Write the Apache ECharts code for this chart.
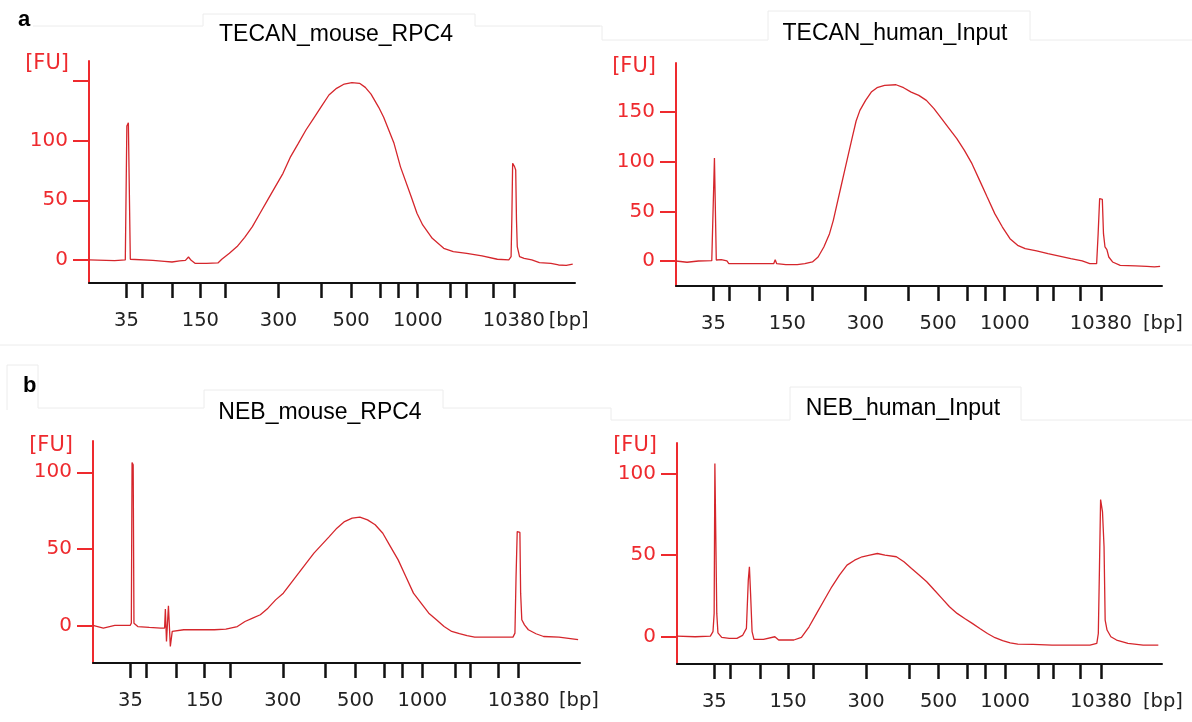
<!DOCTYPE html>
<html>
<head>
    <meta charset="utf-8">
    <title>Bioanalyzer traces</title>
    <style>
        *{
            margin: 0px;
            padding: 0px;
            box-sizing: border-box;
        }
        html, body, #chart{
            width: 100%;
            height: 100%;
            overflow: hidden;
            background: #fff;
        }
    </style>
</head>
<body>
    <div id="chart"></div>
    <script src="https://cdn.jsdelivr.net/npm/echarts@6.0.0/dist/echarts.min.js"></script>
    <script>
        // HS ladder: fragment sizes and where they sit on the run axis (0-100)
        var ladderBp  = [35, 50, 100, 150, 200, 300, 400, 500, 600, 700, 1000, 2000, 3000, 7000, 10380];
        var ladderPos = [7.70, 10.94, 17.15, 22.92, 28.11, 38.98, 47.79, 53.93, 59.84, 63.55, 67.64, 74.42, 77.56, 83.23, 87.41];
        var labelBp   = [35, 150, 300, 500, 1000, 10380];

        var titles = ['TECAN_mouse_RPC4', 'TECAN_human_Input', 'NEB_mouse_RPC4', 'NEB_human_Input'];

        var tecanMouseTime = [0, 5.27, 7.47, 7.71, 7.79, 8.10, 8.34, 8.50, 8.81, 13.14, 15.51, 17.08, 18.66, 19.84, 20.47, 21.02, 21.81, 24.17, 26.53, 27.32, 28.89, 30.47, 32.04, 33.62, 35.19, 36.77, 38.34, 39.92, 41.49, 43.07, 44.64, 46.22, 47.79, 49.37, 50.94, 52.52, 54.09, 55.67, 56.85, 58.03, 59.61, 60.63, 62.76, 64.09, 66.30, 67.48, 68.66, 70.63, 72.99, 74.96, 77.72, 80.87, 84.02, 86.38, 86.85, 87.01, 87.17, 87.33, 87.56, 87.80, 87.96, 88.12, 88.59, 89.53, 91.11, 92.68, 95.04, 96.62, 98.20, 99.53];
        var tecanMouseFU   = [0, -0.6, 0, 0, 112.2, 115.0, 113.9, 0.6, -0.3, -0.3, -1.1, -1.7, -0.8, -0.3, 2.5, -0.3, -2.8, -2.8, -2.5, 0.6, 5.6, 11.2, 19.0, 27.9, 39.1, 50.3, 61.4, 72.6, 86.6, 97.7, 108.9, 118.7, 128.4, 138.2, 143.8, 147.4, 148.5, 148.0, 144.6, 139.0, 127.9, 119.5, 97.7, 78.0, 53.0, 39.1, 29.3, 18.1, 9.8, 7.0, 5.6, 3.4, 0.6, 0, 2.8, 36.3, 81.0, 81.5, 78.2, 75.4, 33.5, 11.2, 2.8, 1.4, 0, -2.2, -2.8, -4.2, -4.5, -3.4];

        var tecanHumanTime = [0, 2.27, 4.61, 7.36, 7.75, 7.91, 8.14, 8.29, 9.31, 10.48, 10.87, 16.34, 20.10, 20.41, 20.72, 22.60, 24.95, 26.51, 28.07, 29.24, 30.42, 31.59, 32.37, 33.15, 33.93, 34.71, 35.50, 36.28, 37.06, 37.84, 39.01, 40.18, 41.36, 42.92, 45.27, 46.83, 48.39, 49.96, 51.52, 53.08, 54.65, 56.21, 57.78, 59.34, 60.90, 62.47, 64.03, 65.59, 67.16, 68.72, 70.29, 71.85, 74.20, 76.54, 78.89, 81.23, 83.58, 85.14, 86.55, 86.86, 87.17, 87.49, 87.72, 87.96, 88.27, 88.66, 89.05, 89.83, 91.40, 94.53, 96.87, 98.44, 99.61];
        var tecanHumanFU   = [0, -1.3, 0, 0.3, 0, 103.7, 103.0, 1.0, 1.3, 0, -2.7, -2.7, -2.7, 1.3, -2.7, -3.7, -3.7, -2.7, -1.0, 4.0, 14.1, 27.5, 40.9, 57.7, 74.5, 91.3, 108.1, 124.8, 141.0, 151.7, 161.8, 170.1, 174.5, 176.9, 177.5, 174.5, 170.1, 166.8, 161.8, 153.4, 143.3, 133.2, 123.2, 111.4, 98.0, 81.2, 64.4, 47.7, 34.2, 22.5, 15.8, 12.4, 10.1, 7.4, 5.0, 2.3, 0, -2.7, -2.7, 27.5, 62.8, 63.8, 62.1, 27.5, 14.1, 11.4, 4.0, -1.0, -4.4, -5.0, -5.4, -6.0, -5.4];

        var nebMouseTime = [0, 2.12, 4.48, 7.63, 7.87, 8.02, 8.25, 8.41, 9.20, 11.56, 13.92, 14.70, 14.86, 15.09, 15.49, 15.88, 16.27, 18.63, 21.78, 24.92, 27.28, 29.64, 31.21, 32.78, 34.36, 35.93, 37.50, 39.08, 40.65, 42.22, 43.79, 45.37, 46.94, 48.51, 50.08, 51.65, 53.22, 54.80, 56.37, 57.94, 59.51, 61.08, 62.66, 64.23, 65.80, 67.37, 68.95, 70.52, 72.09, 73.66, 75.24, 76.81, 78.38, 86.24, 86.64, 86.87, 87.11, 87.42, 87.66, 87.81, 88.05, 88.60, 89.39, 90.96, 92.53, 95.68, 98.82, 99.61];
        var nebMouseFU   = [0, -1.7, 0, 0, 1.5, 106.3, 104.8, 1.5, -0.7, -1.3, -1.7, -1.7, 10.7, -10.4, 12.8, -13.7, -3.9, -2.8, -2.8, -2.8, -2.4, -0.7, 2.6, 4.8, 7.0, 11.3, 16.7, 21.1, 27.6, 34.1, 40.7, 47.2, 52.6, 58.0, 63.5, 67.8, 70.0, 70.7, 68.9, 65.7, 60.2, 51.5, 42.8, 32.0, 21.1, 14.6, 8.0, 3.7, -0.7, -3.9, -5.4, -6.7, -7.6, -7.6, -5.0, 32.0, 61.3, 60.2, 60.7, 21.1, 3.7, 0.4, -2.8, -5.4, -7.2, -7.6, -8.9, -9.3];

        var nebHumanTime = [0, 3.75, 6.88, 7.42, 7.66, 7.81, 8.05, 8.20, 8.44, 9.22, 10.79, 12.35, 13.52, 14.31, 14.70, 14.93, 15.17, 15.48, 15.87, 17.83, 20.18, 20.96, 24.09, 25.66, 27.23, 28.79, 30.36, 31.92, 33.49, 35.05, 36.62, 38.18, 39.75, 41.31, 42.88, 45.23, 46.79, 48.36, 49.92, 51.49, 53.05, 54.62, 56.18, 57.75, 59.31, 60.88, 62.44, 64.01, 65.57, 67.14, 68.70, 70.27, 73.40, 77.32, 85.15, 86.56, 86.87, 87.11, 87.34, 87.73, 88.05, 88.28, 88.67, 89.46, 90.63, 92.98, 96.11, 99.24];
        var nebHumanFU   = [0.4, 0, 0.4, 3.1, 14.3, 106.1, 105.1, 14.3, 2.4, -0.4, -1.0, -1.0, 0.8, 5.1, 34.7, 42.9, 26.5, 3.1, -1.6, -1.6, 0, -2.0, -2.0, -0.4, 6.1, 14.3, 22.5, 30.6, 37.8, 43.9, 46.9, 49.0, 50.0, 51.0, 50.0, 49.0, 45.9, 41.8, 37.8, 33.7, 28.6, 23.5, 18.4, 14.3, 11.2, 8.2, 5.1, 2.0, -0.6, -2.4, -3.7, -4.5, -4.7, -5.1, -5.1, -4.1, 2.0, 42.9, 84.1, 76.5, 55.1, 10.2, 4.1, 0, -2.0, -4.1, -5.1, -5.1];

        var fuTicks  = [[0, 50, 100, 150], [0, 50, 100, 150], [0, 50, 100], [0, 50, 100]];
        var fuLabels = [[0, 50, 100], [0, 50, 100, 150], [0, 50, 100], [0, 50, 100]];

        var traces = [
            [tecanMouseTime, tecanMouseFU],
            [tecanHumanTime, tecanHumanFU],
            [nebMouseTime, nebMouseFU],
            [nebHumanTime, nebHumanFU]
        ];

        // where each panel sits in the figure
        var panels = [
            {left: 89,  top: 61,  width: 486, height: 222, yMin: -19.3, yMax: 166.7, tx: 336, ty: 35,  bpGap: -27, fuGap: -3},
            {left: 676, top: 63,  width: 486, height: 223, yMin: -25.2, yMax: 199.4, tx: 895, ty: 34,  bpGap: -19, fuGap: -4},
            {left: 93,  top: 441, width: 487, height: 222, yMin: -24.5, yMax: 120.4, tx: 320, ty: 413, bpGap: -21, fuGap: -5},
            {left: 677, top: 443, width: 485, height: 221, yMin: -16.7, yMax: 118.7, tx: 903, ty: 409, bpGap: -19, fuGap: -3}
        ];

        var RED = '#ee2a2e';
        var labelPos = labelBp.map(function (bp) { return ladderPos[ladderBp.indexOf(bp)]; });

        function bpText(v) {
            var best = 0;
            for (var k = 1; k < ladderPos.length; k++) {
                if (Math.abs(ladderPos[k] - v) < Math.abs(ladderPos[best] - v)) best = k;
            }
            return String(ladderBp[best]);
        }

        var grid = [], xAxis = [], yAxis = [], series = [], graphic = [];

        panels.forEach(function (p, i) {
            grid.push({left: p.left, top: p.top, width: p.width, height: p.height, outerBoundsMode: 'none'});

            xAxis.push({
                gridIndex: i, type: 'value', min: 0, max: 100,
                axisLine: {onZero: false, lineStyle: {color: '#111', width: 2}},
                axisTick: {customValues: ladderPos, length: 15, lineStyle: {color: '#111', width: 2.5}},
                axisLabel: {
                    customValues: labelPos, margin: 28, formatter: bpText,
                    color: '#222', fontFamily: 'DejaVu Sans', fontSize: 19.5
                },
                splitLine: {show: false},
                name: '[bp]', nameLocation: 'end', nameGap: p.bpGap,
                nameTextStyle: {
                    align: 'left', verticalAlign: 'top', padding: [28, 0, 0, 0],
                    color: '#222', fontFamily: 'DejaVu Sans', fontSize: 19.5
                }
            });

            yAxis.push({
                gridIndex: i, type: 'value', min: p.yMin, max: p.yMax,
                axisLine: {show: true, lineStyle: {color: RED, width: 2}},
                axisTick: {show: true, customValues: fuTicks[i], length: 16, lineStyle: {color: RED, width: 2}},
                axisLabel: {
                    customValues: fuLabels[i], margin: 21,
                    color: RED, fontFamily: 'DejaVu Sans', fontSize: 20
                },
                splitLine: {show: false},
                name: '[FU]', nameLocation: 'end', nameGap: p.fuGap,
                nameTextStyle: {
                    align: 'right', verticalAlign: 'middle', padding: [0, 20, 0, 0],
                    color: RED, fontFamily: 'DejaVu Sans', fontSize: 21
                }
            });

            var t = traces[i][0], fu = traces[i][1];
            series.push({
                type: 'line',
                xAxisIndex: i,
                yAxisIndex: i,
                data: t.map(function (x, k) { return [x, fu[k]]; }),
                showSymbol: false,
                symbol: 'none',
                lineStyle: {color: '#d5262c', width: 1.3},
                animation: false
            });

            graphic.push({
                type: 'text', x: p.tx, y: p.ty,
                style: {
                    text: titles[i], fill: '#000',
                    font: '23px "Liberation Sans", Arial, sans-serif',
                    align: 'center', verticalAlign: 'middle'
                }
            });
        });

        // faint frame lines left over from the figure layout
        var frames = [
            [[33, 26], [203, 26], [203, 14], [475, 14], [475, 26], [600, 26]],
            [[560, 26], [602, 26], [602, 40], [768, 40], [768, 11], [1030, 11], [1030, 40], [1192, 40]],
            [[0, 345], [1192, 345]],
            [[7, 410], [7, 365], [38, 365], [38, 408], [204, 408], [204, 390], [443, 390], [443, 408], [611, 408], [611, 420], [790, 420], [790, 387], [1021, 387], [1021, 420], [1192, 420]]
        ];
        frames.forEach(function (pts) {
            graphic.push({
                type: 'polyline', silent: true, z: -1,
                shape: {points: pts},
                style: {stroke: '#ececec', lineWidth: 1, fill: null}
            });
        });

        graphic.push({
            type: 'text', x: 18, y: 20,
            style: {text: 'a', fill: '#000', font: 'bold 22px "Liberation Sans", Arial, sans-serif', verticalAlign: 'middle'}
        });
        graphic.push({
            type: 'text', x: 23, y: 386,
            style: {text: 'b', fill: '#000', font: 'bold 22px "Liberation Sans", Arial, sans-serif', verticalAlign: 'middle'}
        });

        var chart = echarts.init(document.getElementById('chart'));
        chart.setOption({
            animation: false,
            grid: grid,
            xAxis: xAxis,
            yAxis: yAxis,
            series: series,
            graphic: graphic
        });
    </script>
</body>
</html>
